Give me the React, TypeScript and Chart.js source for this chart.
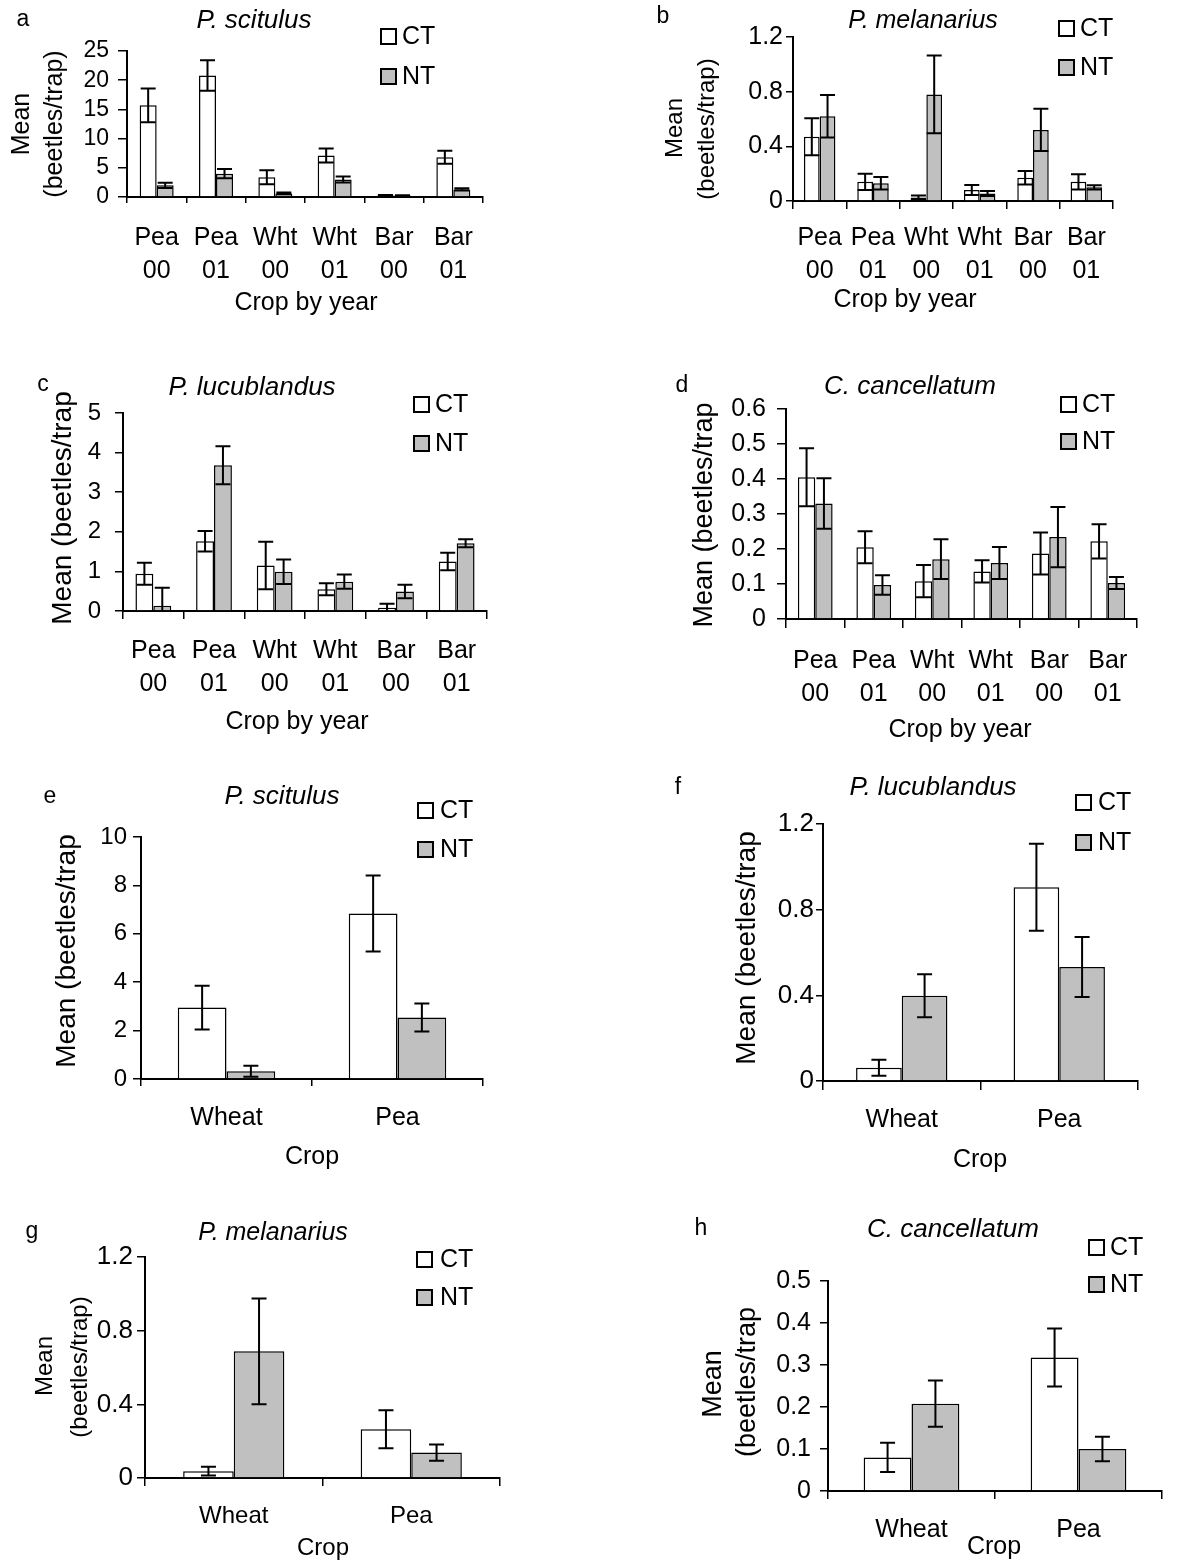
import React, { useEffect, useRef } from "react";
import { Chart, registerables } from "chart.js";

Chart.register(...registerables);

const PAGE_W = 1178;
const PAGE_H = 1561;
const FAMILY = "'Liberation Sans', Arial, Helvetica, sans-serif";

// ---------- categories ----------
const cropYearLabels = [["Pea", "00"], ["Pea", "01"], ["Wht", "00"], ["Wht", "01"], ["Bar", "00"], ["Bar", "01"]];
const cropLabels = ["Wheat", "Pea"];
const seriesNames = ["CT", "NT"];

// ---------- a: P. scitulus, crop by year ----------
const aCT = [15.7, 20.8, 3.4, 7.1, 0.25, 6.8];
const aCTse = [2.9, 2.6, 1.2, 1.2, 0.1, 1.1];
const aNT = [2.0, 4.0, 0.6, 3.0, 0.25, 1.3];
const aNTse = [0.45, 0.8, 0.15, 0.5, 0.05, 0.2];

// ---------- b: P. melanarius, crop by year ----------
const bCT = [0.47, 0.14, 0.025, 0.08, 0.17, 0.14];
const bCTse = [0.135, 0.06, 0.015, 0.037, 0.05, 0.055];
const bNT = [0.62, 0.13, 0.78, 0.055, 0.52, 0.1];
const bNTse = [0.155, 0.045, 0.285, 0.018, 0.155, 0.015];

// ---------- c: P. lucublandus, crop by year ----------
const cCT = [0.94, 1.76, 1.15, 0.55, 0.08, 1.25];
const cCTse = [0.28, 0.26, 0.6, 0.15, 0.1, 0.22];
const cNT = [0.13, 3.68, 0.99, 0.74, 0.49, 1.71];
const cNTse = [0.46, 0.48, 0.31, 0.18, 0.17, 0.1];

// ---------- d: C. cancellatum, crop by year ----------
const dCT = [0.405, 0.205, 0.108, 0.136, 0.187, 0.222];
const dCTse = [0.083, 0.046, 0.046, 0.032, 0.06, 0.049];
const dNT = [0.33, 0.097, 0.171, 0.16, 0.234, 0.103];
const dNTse = [0.072, 0.028, 0.057, 0.046, 0.086, 0.017];

// ---------- e: P. scitulus, crop ----------
const eCT = [2.95, 6.84];
const eCTse = [0.9, 1.57];
const eNT = [0.32, 2.54];
const eNTse = [0.23, 0.58];

// ---------- f: P. lucublandus, crop ----------
const fCT = [0.062, 0.905];
const fCTse = [0.037, 0.203];
const fNT = [0.398, 0.532];
const fNTse = [0.1, 0.14];

// ---------- g: P. melanarius, crop ----------
const gCT = [0.037, 0.265];
const gCTse = [0.024, 0.103];
const gNT = [0.688, 0.138];
const gNTse = [0.287, 0.044];

// ---------- h: C. cancellatum, crop ----------
const hCT = [0.08, 0.318];
const hCTse = [0.035, 0.069];
const hNT = [0.208, 0.1];
const hNTse = [0.055, 0.029];

// ---------- axis tick settings ----------
const aYTicks = { max: 25, step: 5 };
const bYTicks = { max: 1.2, step: 0.4 };
const cYTicks = { max: 5, step: 1 };
const dYTicks = { max: 0.6, step: 0.1 };
const eYTicks = { max: 10, step: 2 };
const fYTicks = { max: 1.2, step: 0.4 };
const gYTicks = { max: 1.2, step: 0.4 };
const hYTicks = { max: 0.5, step: 0.1 };

type TextPos = { text: string; x: number; y: number };

interface PanelSpec {
  letter: string;
  title: string;
  labels: (string | string[])[];
  ct: number[];
  ctSe: number[];
  nt: number[];
  ntSe: number[];
  yTicks: { max: number; step: number };
  area: [number, number, number, number];
  yTickFont: number;
  yTickLen: number;
  yTickPad: number;
  xFont: number;
  xLineHeight: number;
  xTickLen: number;
  xTickPad: number;
  catPct: number;
  letterPos: [number, number];
  titlePos: [number, number];
  titleFont: number;
  legend: { x: number; ctTop: number; ntTop: number; textX: number; font: number };
  yTitle: TextPos[];
  yTitleFont: number;
  xTitle: TextPos;
  xTitleFont: number;
}

const PANELS: PanelSpec[] = [
  {
    letter: "a", title: "P. scitulus", labels: cropYearLabels,
    ct: aCT, ctSe: aCTse, nt: aNT, ntSe: aNTse, yTicks: aYTicks,
    area: [127, 51, 483, 197],
    yTickFont: 23, yTickLen: 9, yTickPad: 9,
    xFont: 25, xLineHeight: 33, xTickLen: 6, xTickPad: 19, catPct: 0.573,
    letterPos: [23, 20], titlePos: [254, 21], titleFont: 26,
    legend: { x: 381, ctTop: 29, ntTop: 69, textX: 402, font: 25 },
    yTitle: [{ text: "Mean", x: 22, y: 124 }, { text: "(beetles/trap)", x: 55, y: 124 }], yTitleFont: 25,
    xTitle: { text: "Crop by year", x: 306, y: 303 }, xTitleFont: 25,
  },
  {
    letter: "b", title: "P. melanarius", labels: cropYearLabels,
    ct: bCT, ctSe: bCTse, nt: bNT, ntSe: bNTse, yTicks: bYTicks,
    area: [793, 37, 1113, 201],
    yTickFont: 25, yTickLen: 7, yTickPad: 3,
    xFont: 25, xLineHeight: 33, xTickLen: 8, xTickPad: 13, catPct: 0.59,
    letterPos: [663, 17], titlePos: [923, 21], titleFont: 25,
    legend: { x: 1059, ctTop: 21, ntTop: 60, textX: 1080, font: 25 },
    yTitle: [{ text: "Mean", x: 675, y: 128 }, { text: "(beetles/trap)", x: 707, y: 129 }], yTitleFont: 24,
    xTitle: { text: "Crop by year", x: 905, y: 300 }, xTitleFont: 25,
  },
  {
    letter: "c", title: "P. lucublandus", labels: cropYearLabels,
    ct: cCT, ctSe: cCTse, nt: cNT, ntSe: cNTse, yTicks: cYTicks,
    area: [123, 413, 487, 611],
    yTickFont: 24, yTickLen: 8, yTickPad: 14,
    xFont: 25, xLineHeight: 33, xTickLen: 8, xTickPad: 16, catPct: 0.59,
    letterPos: [43, 385], titlePos: [252, 388], titleFont: 26,
    legend: { x: 414, ctTop: 397, ntTop: 436, textX: 435, font: 25 },
    yTitle: [{ text: "Mean (beetles/trap", x: 63, y: 508 }], yTitleFont: 28,
    xTitle: { text: "Crop by year", x: 297, y: 722 }, xTitleFont: 25,
  },
  {
    letter: "d", title: "C. cancellatum", labels: cropYearLabels,
    ct: dCT, ctSe: dCTse, nt: dNT, ntSe: dNTse, yTicks: dYTicks,
    area: [786, 409, 1137, 619],
    yTickFont: 25, yTickLen: 9, yTickPad: 11,
    xFont: 25, xLineHeight: 33, xTickLen: 9, xTickPad: 17, catPct: 0.594,
    letterPos: [682, 386], titlePos: [910, 387], titleFont: 26,
    legend: { x: 1061, ctTop: 397, ntTop: 434, textX: 1082, font: 25 },
    yTitle: [{ text: "Mean (beetles/trap", x: 705, y: 515 }], yTitleFont: 27,
    xTitle: { text: "Crop by year", x: 960, y: 730 }, xTitleFont: 25,
  },
  {
    letter: "e", title: "P. scitulus", labels: cropLabels,
    ct: eCT, ctSe: eCTse, nt: eNT, ntSe: eNTse, yTicks: eYTicks,
    area: [141, 837, 483, 1079],
    yTickFont: 24, yTickLen: 8, yTickPad: 6,
    xFont: 25, xLineHeight: 30, xTickLen: 7, xTickPad: 17, catPct: 0.57,
    letterPos: [50, 797], titlePos: [282, 797], titleFont: 26,
    legend: { x: 418, ctTop: 803, ntTop: 842, textX: 440, font: 25 },
    yTitle: [{ text: "Mean (beetles/trap", x: 67, y: 951 }], yTitleFont: 28,
    xTitle: { text: "Crop", x: 312, y: 1157 }, xTitleFont: 25,
  },
  {
    letter: "f", title: "P. lucublandus", labels: cropLabels,
    ct: fCT, ctSe: fCTse, nt: fNT, ntSe: fNTse, yTicks: fYTicks,
    area: [823, 824, 1138, 1081],
    yTickFont: 26, yTickLen: 7, yTickPad: 2,
    xFont: 25, xLineHeight: 30, xTickLen: 9, xTickPad: 15, catPct: 0.58,
    letterPos: [678, 788], titlePos: [933, 788], titleFont: 26,
    legend: { x: 1076, ctTop: 795, ntTop: 835, textX: 1098, font: 25 },
    yTitle: [{ text: "Mean (beetles/trap", x: 747, y: 948 }], yTitleFont: 28,
    xTitle: { text: "Crop", x: 980, y: 1160 }, xTitleFont: 25,
  },
  {
    letter: "g", title: "P. melanarius", labels: cropLabels,
    ct: gCT, ctSe: gCTse, nt: gNT, ntSe: gNTse, yTicks: gYTicks,
    area: [145, 1257, 500, 1478],
    yTickFont: 26, yTickLen: 8, yTickPad: 4,
    xFont: 24, xLineHeight: 30, xTickLen: 8, xTickPad: 15.5, catPct: 0.57,
    letterPos: [32, 1232], titlePos: [273, 1233], titleFont: 25,
    legend: { x: 417, ctTop: 1252, ntTop: 1290, textX: 440, font: 25 },
    yTitle: [{ text: "Mean", x: 45, y: 1366 }, { text: "(beetles/trap)", x: 80, y: 1367 }], yTitleFont: 24,
    xTitle: { text: "Crop", x: 323, y: 1548 }, xTitleFont: 24,
  },
  {
    letter: "h", title: "C. cancellatum", labels: cropLabels,
    ct: hCT, ctSe: hCTse, nt: hNT, ntSe: hNTse, yTicks: hYTicks,
    area: [828, 1281, 1162, 1491],
    yTickFont: 25, yTickLen: 8, yTickPad: 9,
    xFont: 25, xLineHeight: 30, xTickLen: 8, xTickPad: 16, catPct: 0.573,
    letterPos: [701, 1229], titlePos: [953, 1230], titleFont: 26,
    legend: { x: 1089, ctTop: 1240, ntTop: 1277, textX: 1110, font: 25 },
    yTitle: [{ text: "Mean", x: 714, y: 1384 }, { text: "(beetles/trap", x: 748, y: 1382 }], yTitleFont: 27,
    xTitle: { text: "Crop", x: 994, y: 1547 }, xTitleFont: 25,
  },
];

const CAP_W = 15;
const BOX = 15;

function PanelChart({ spec }: { spec: PanelSpec }) {
  const ref = useRef<HTMLCanvasElement>(null);

  useEffect(() => {
    const canvas = ref.current;
    if (!canvas) return;
    const [l, t, r, b] = spec.area;

    const decor = {
      id: "decor",
      afterDatasetsDraw(chart: any) {
        const ctx = chart.ctx as CanvasRenderingContext2D;
        const yScale = chart.scales.y;
        ctx.save();
        ctx.strokeStyle = "#000";
        ctx.lineWidth = 2;
        chart.data.datasets.forEach((ds: any, i: number) => {
          const meta = chart.getDatasetMeta(i);
          meta.data.forEach((bar: any, j: number) => {
            const v = ds.data[j];
            const e = ds.errors[j];
            const top = yScale.getPixelForValue(v + e);
            const lowV = v - e;
            const bot = yScale.getPixelForValue(Math.max(lowV, 0));
            const x = bar.x;
            ctx.beginPath();
            ctx.moveTo(x, top);
            ctx.lineTo(x, bot);
            ctx.moveTo(x - CAP_W / 2, top);
            ctx.lineTo(x + CAP_W / 2, top);
            if (lowV > 0) {
              ctx.moveTo(x - CAP_W / 2, bot);
              ctx.lineTo(x + CAP_W / 2, bot);
            }
            ctx.stroke();
          });
        });
        ctx.restore();
      },
      afterDraw(chart: any) {
        const ctx = chart.ctx as CanvasRenderingContext2D;
        ctx.save();
        ctx.fillStyle = "#000";
        ctx.textBaseline = "middle";
        // panel letter
        ctx.textAlign = "center";
        ctx.font = `23px ${FAMILY}`;
        ctx.fillText(spec.letter, spec.letterPos[0], spec.letterPos[1]);
        // title
        ctx.font = `italic ${spec.titleFont}px ${FAMILY}`;
        ctx.fillText(spec.title, spec.titlePos[0], spec.titlePos[1]);
        // x title
        ctx.font = `${spec.xTitleFont}px ${FAMILY}`;
        ctx.fillText(spec.xTitle.text, spec.xTitle.x, spec.xTitle.y);
        // y title (rotated)
        ctx.font = `${spec.yTitleFont}px ${FAMILY}`;
        spec.yTitle.forEach((tp) => {
          ctx.save();
          ctx.translate(tp.x, tp.y);
          ctx.rotate(-Math.PI / 2);
          ctx.fillText(tp.text, 0, 0);
          ctx.restore();
        });
        // legend
        const lg = spec.legend;
        const items = [
          { name: seriesNames[0], top: lg.ctTop, fill: "#ffffff" },
          { name: seriesNames[1], top: lg.ntTop, fill: "#c0c0c0" },
        ];
        ctx.lineWidth = 2;
        ctx.strokeStyle = "#000";
        items.forEach((it) => {
          ctx.fillStyle = it.fill;
          ctx.fillRect(lg.x, it.top, BOX, BOX);
          ctx.strokeRect(lg.x, it.top, BOX, BOX);
          ctx.fillStyle = "#000";
          ctx.textAlign = "left";
          ctx.font = `${lg.font}px ${FAMILY}`;
          ctx.fillText(it.name, lg.textX, it.top + BOX / 2 + 1);
        });
        ctx.restore();
      },
    };

    const yBoxWidth = l;
    const xBoxHeight = PAGE_H - b;

    const chart = new Chart(canvas, {
      type: "bar",
      data: {
        labels: spec.labels as any,
        datasets: [
          {
            label: seriesNames[0],
            data: spec.ct,
            errors: spec.ctSe,
            backgroundColor: "#ffffff",
            borderColor: "#000000",
            borderWidth: 1.5,
            categoryPercentage: spec.catPct,
            barPercentage: 1,
          } as any,
          {
            label: seriesNames[1],
            data: spec.nt,
            errors: spec.ntSe,
            backgroundColor: "#c0c0c0",
            borderColor: "#000000",
            borderWidth: 1.5,
            categoryPercentage: spec.catPct,
            barPercentage: 1,
          } as any,
        ],
      },
      options: {
        responsive: false,
        maintainAspectRatio: false,
        animation: false,
        devicePixelRatio: 1,
        events: [],
        layout: { padding: { left: 0, top: t, right: PAGE_W - r, bottom: 0 } },
        plugins: {
          legend: { display: false },
          title: { display: false },
          tooltip: { enabled: false },
        },
        scales: {
          x: {
            type: "category",
            offset: true,
            grid: {
              display: true,
              offset: true,
              drawOnChartArea: false,
              drawTicks: true,
              tickLength: spec.xTickLen,
              color: "#000",
              lineWidth: 1.5,
            },
            border: { display: true, color: "#000", width: 2 },
            ticks: {
              color: "#000",
              autoSkip: false,
              maxRotation: 0,
              minRotation: 0,
              padding: spec.xTickPad,
              font: { family: FAMILY, size: spec.xFont, lineHeight: spec.xLineHeight / spec.xFont },
            },
            afterFit: (s: any) => {
              s.height = xBoxHeight;
              s.paddingLeft = 0;
              s.paddingRight = 0;
            },
          },
          y: {
            type: "linear",
            min: 0,
            max: spec.yTicks.max,
            grid: {
              display: true,
              drawOnChartArea: false,
              drawTicks: true,
              tickLength: spec.yTickLen,
              color: "#000",
              lineWidth: 1.5,
            },
            border: { display: true, color: "#000", width: 2 },
            ticks: {
              stepSize: spec.yTicks.step,
              autoSkip: false,
              color: "#000",
              padding: spec.yTickPad,
              font: { family: FAMILY, size: spec.yTickFont },
            },
            afterFit: (s: any) => {
              s.width = yBoxWidth;
              s.paddingTop = 0;
              s.paddingBottom = 0;
            },
          },
        },
      } as any,
      plugins: [decor],
    });

    return () => chart.destroy();
  }, [spec]);

  return (
    <canvas
      ref={ref}
      width={PAGE_W}
      height={PAGE_H}
      style={{ position: "absolute", left: 0, top: 0, width: PAGE_W, height: PAGE_H }}
    />
  );
}

export default function App() {
  return (
    <div
      style={{
        position: "absolute",
        left: 0,
        top: 0,
        width: PAGE_W,
        height: PAGE_H,
        background: "#ffffff",
        overflow: "hidden",
      }}
    >
      {PANELS.map((p) => (
        <PanelChart key={p.letter} spec={p} />
      ))}
    </div>
  );
}
